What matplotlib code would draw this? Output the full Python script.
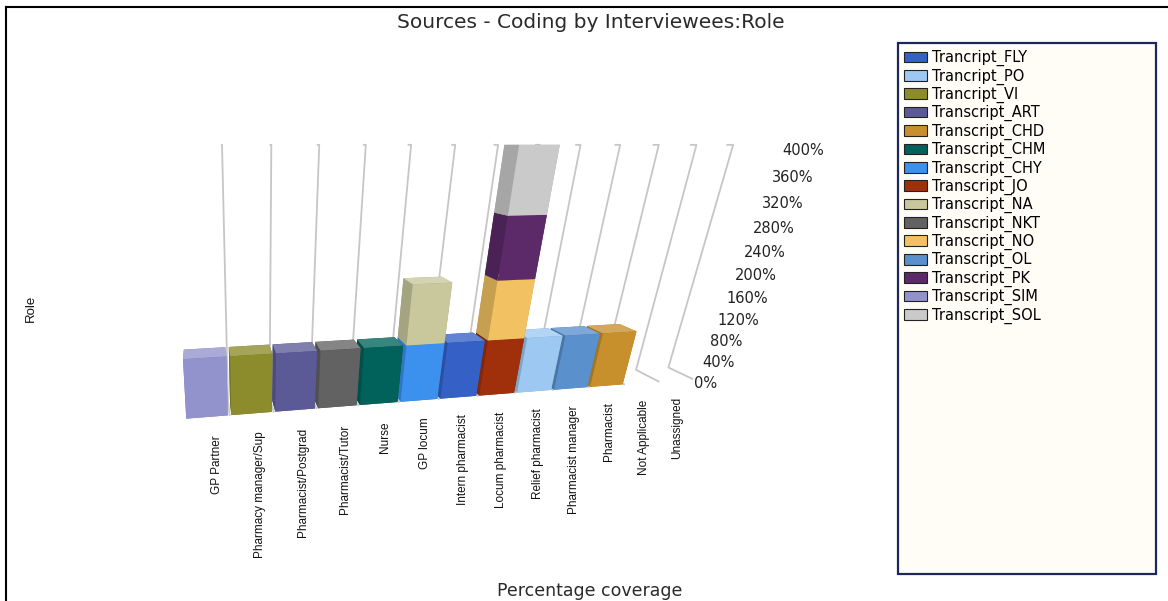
import matplotlib
matplotlib.use('Agg')
import matplotlib.pyplot as plt
import numpy as np
from matplotlib.patches import Patch, Rectangle
from matplotlib.lines import Line2D
from matplotlib.colors import to_rgb

roles = ['GP Partner', 'Pharmacy manager/Sup', 'Pharmacist/Postgrad', 'Pharmacist/Tutor',
         'Nurse', 'GP locum', 'Intern pharmacist', 'Locum pharmacist', 'Relief pharmacist',
         'Pharmacist manager', 'Pharmacist', 'Not Applicable', 'Unassigned']

sources = ['Trancript_FLY', 'Trancript_PO', 'Trancript_VI', 'Transcript_ART', 'Transcript_CHD',
           'Transcript_CHM', 'Transcript_CHY', 'Transcript_JO', 'Transcript_NA', 'Transcript_NKT',
           'Transcript_NO', 'Transcript_OL', 'Transcript_PK', 'Transcript_SIM', 'Transcript_SOL']
source_colors = ['#3560c6', '#9cc8f2', '#8c8c2c', '#5c5a96', '#c8902c',
                 '#00625a', '#3c90ee', '#a0300c', '#c8c89c', '#626262',
                 '#f2c262', '#5a90cc', '#5c2a68', '#9292cc', '#cacaca']
# role each source is coded to and its coverage (%)
source_role = ['Intern pharmacist', 'Relief pharmacist', 'Pharmacy manager/Sup', 'Pharmacist/Postgrad',
               'Pharmacist', 'Nurse', 'GP locum', 'Locum pharmacist', 'GP locum', 'Pharmacist/Tutor',
               'Locum pharmacist', 'Pharmacist manager', 'Locum pharmacist', 'GP Partner',
               'Locum pharmacist']
coverage = [100, 100, 100, 100, 100, 100, 100, 100, 100, 100, 100, 100, 100, 100, 100]

ticks = [0, 40, 80, 120, 160, 200, 240, 280, 320, 360, 400]

W, H = 1168, 601
fig = plt.figure(figsize=(W / 100, H / 100), dpi=100)
fig.patch.set_facecolor('white')

# 3d axes: camera at the 400% level, left of the chart and looking down
S = 634.0  # side of the square 3d axes in pixels
cx, cy = 260.0, 268.6  # where the view centre lands, pixels from top-left
left = cx - S * 0.95 / 1.85
top = cy - S * 0.90 / 1.85
ax = fig.add_axes([left / W, 1 - (top + S) / H, S / W, S / H], projection='3d',
                  computed_zorder=False)
ax.set_proj_type('persp', focal_length=0.1257)
ax.view_init(elev=16, azim=-97.5)
ax.set_xlim(-6.454, 9.546)
ax.set_ylim(0, 5.426)
ax.set_zlim(0, 358.4)
ax.set_box_aspect((16 * 0.1714, 5.426 * 0.1714, 358.4 * 0.0025))
ax.set_axis_off()

# back wall grid lines between the roles, with their floor and top returns
wall_y = 0.6
grid_col = '#c6c6c6'
for i in range(len(roles)):
    gx = i + 0.5
    ax.plot([gx, gx, gx, gx], [0, wall_y, wall_y, wall_y + 0.12], [0, 0, 400, 400],
            color=grid_col, lw=1.3, zorder=1, clip_on=False)

# stacked bars, one collection so faces sort together
xs, ys, zs, dxs, dys, dzs, cols = [], [], [], [], [], [], []
bottoms = np.zeros(len(roles))
for src, role, cov, col in zip(sources, source_role, coverage, source_colors):
    i = roles.index(role)
    xs.append(i - 0.46); ys.append(0.0); zs.append(bottoms[i])
    dxs.append(0.92); dys.append(0.45); dzs.append(cov)
    bottoms[i] += cov
    base = np.array(to_rgb(col))
    light = base + (1 - base) * 0.22
    dark = base * 0.82
    # face order: bottom, top, front, back, left, right
    cols += [dark, light, base, dark, dark, dark]

bars = ax.bar3d(xs, ys, zs, dxs, dys, dzs, color=cols, shade=False, edgecolor='none',
                zorder=2)
bars.set_clip_on(False)


def screen(x, y, z):
    p = ax.get_proj() @ np.array([x, y, z, 1.0])
    return p[0] / p[3], p[1] / p[3]


narrow = ['Liberation Sans Narrow', 'Liberation Sans', 'DejaVu Sans']
for i, r in enumerate(roles):
    tx, ty = screen(i + 0.2, 0, -34)
    ax.text2D(tx, ty, r, transform=ax.transData, rotation=90, ha='center', va='top',
              fontsize=8.5, family=narrow, color='#111111')

for t in ticks:
    tx, ty = screen(12.6 + 0.4 * t / 400, 0, t - 9)
    ax.text2D(tx, ty, f'{t}%', transform=ax.transData, ha='left', va='center',
              fontsize=10.5, color='#222222')

fig.text(591 / W, 1 - 22 / H, 'Sources - Coding by Interviewees:Role', ha='center',
         va='center', fontsize=14.5, color='#2a2a2a')
fig.text(590 / W, 1 - 591 / H, 'Percentage coverage', ha='center', va='center',
         fontsize=12.5, color='#2a2a2a')
fig.text(31 / W, 1 - 308 / H, 'Role', ha='center', va='center', rotation=90, fontsize=9.5,
         family=narrow, color='#111111')

# legend panel
fig.add_artist(Rectangle((898 / W, 1 - 574 / H), 258 / W, 531 / H,
                         transform=fig.transFigure, facecolor='#fffdf6',
                         edgecolor='#1c2858', lw=1.6))
handles = [Patch(facecolor=c, edgecolor='#222222', lw=0.8) for c in source_colors]
fig.legend(handles, sources, loc='upper left', bbox_to_anchor=(904 / W, 1 - 50 / H),
           frameon=False, fontsize=10.5, handlelength=1.58, handleheight=0.75,
           handletextpad=0.34, labelspacing=0.15, borderpad=0, borderaxespad=0)

# outer frame
fig.add_artist(Line2D([6 / W, 6 / W], [0, 1 - 7 / H], transform=fig.transFigure,
                      color='black', lw=1.5))
fig.add_artist(Line2D([6 / W, 1], [1 - 7 / H, 1 - 7 / H], transform=fig.transFigure,
                      color='black', lw=1.5))

fig.savefig('out.png', dpi=100)
